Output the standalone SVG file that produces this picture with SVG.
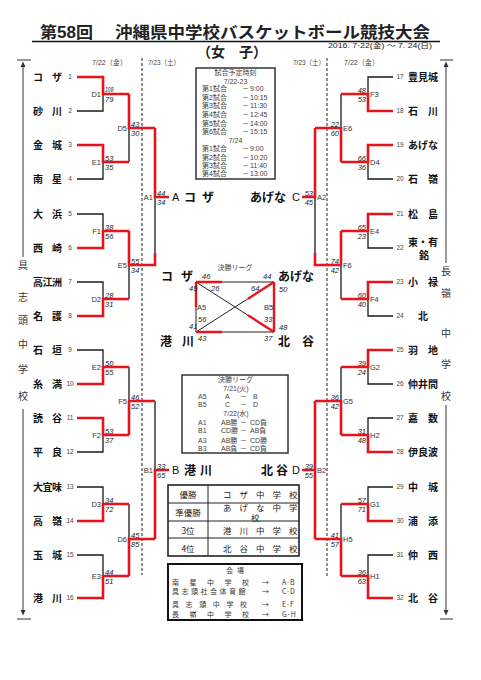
<svg xmlns="http://www.w3.org/2000/svg" width="481" height="680" viewBox="0 0 481 680">
<style>
text{font-family:"Liberation Sans","Noto Sans CJK JP",sans-serif;fill:#222}
.k{stroke:#1a1a1a;stroke-width:1.3;fill:none}
.r{stroke:#e8131b;stroke-width:2.6;fill:none;stroke-linejoin:miter}
.d{stroke:#222;stroke-width:1;stroke-dasharray:3 2;fill:none}
.ax{stroke:#333;stroke-width:1;fill:none}
.nm{font-family:"Noto Sans CJK JP",sans-serif;font-weight:bold;font-size:10px;fill:#111}
.no{font-size:6.5px;fill:#444;text-anchor:middle}
.sc{font-size:7.5px;font-style:italic;fill:#222}
.se{font-size:7.5px;font-style:italic;fill:#222;text-anchor:end}
.le{font-size:7.5px;fill:#333;text-anchor:end}
.ls{font-size:7.5px;fill:#333}
.sm{font-size:7px;fill:#444}
.side{font-family:"Noto Sans CJK JP",sans-serif;font-size:10px;fill:#333;text-anchor:middle}
.big{font-family:"Noto Sans CJK JP",sans-serif;font-weight:bold;font-size:12px;fill:#111}
.let{font-size:11px;fill:#111}
.box{stroke:#333;stroke-width:1.5;fill:none}
.vn{font-family:"Noto Sans CJK JP",sans-serif;font-size:7px;fill:#333}
.rt{font-family:"Noto Sans CJK JP",sans-serif;font-size:8.5px;fill:#222}
</style>
<rect x="0" y="0" width="481" height="680" fill="#fff"/>

<g id="title">
<text x="40" y="38" font-weight="bold" font-size="16" textLength="53" lengthAdjust="spacingAndGlyphs" fill="#111">第58回</text>
<text x="115" y="38" font-weight="bold" font-size="16" textLength="315" lengthAdjust="spacingAndGlyphs" fill="#111">沖縄県中学校バスケットボール競技大会</text>
<line x1="32" y1="41.5" x2="440" y2="41.5" stroke="#111" stroke-width="1.5"/>
<text x="197" y="57" font-weight="bold" font-size="14" textLength="70" lengthAdjust="spacingAndGlyphs" fill="#111">（女　子）</text>
<text x="328" y="47.5" font-size="6.5" textLength="104" lengthAdjust="spacingAndGlyphs" fill="#333">2016. 7·22(金) ～ 7. 24(日)</text>
</g>

<g id="headers">
<text x="92" y="65" class="sm" textLength="35" lengthAdjust="spacingAndGlyphs">7/22（金）</text>
<text x="148" y="65" class="sm" textLength="32" lengthAdjust="spacingAndGlyphs">7/23（土）</text>
<text x="293" y="65" class="sm" textLength="32" lengthAdjust="spacingAndGlyphs">7/23（土）</text>
<text x="344" y="65" class="sm" textLength="35" lengthAdjust="spacingAndGlyphs">7/22（金）</text>
<line class="d" x1="142" y1="58" x2="142" y2="575"/>
<line class="d" x1="327" y1="58" x2="327" y2="576"/>
</g>

<g id="side-left">
<path class="ax" d="M17,60H31M23,66V257M23,409V612M17,619H31"/>
<polygon points="23,61.5 20.5,67 25.5,67" fill="#333"/>
<polygon points="23,615.5 20.5,610 25.5,610" fill="#333"/>
<text class="side" x="23" y="269">具</text>
<text class="side" x="23" y="301">志</text>
<text class="side" x="23" y="324">頭</text>
<text class="side" x="23" y="348">中</text>
<text class="side" x="23" y="373">学</text>
<text class="side" x="23" y="400">校</text>
</g>
<g id="side-right">
<path class="ax" d="M440,60H453M446,66V263M446,405V612M440,619H453"/>
<polygon points="446,61.5 443.5,67 448.5,67" fill="#333"/>
<polygon points="446,615.5 443.5,610 448.5,610" fill="#333"/>
<text class="side" x="446" y="275">長</text>
<text class="side" x="446" y="297">嶺</text>
<text class="side" x="446" y="337">中</text>
<text class="side" x="446" y="368">学</text>
<text class="side" x="446" y="400">校</text>
</g>

<g id="connectors">
<path class="k" d="M77,111H103V94M77,179H103V162M77,214H103V231M77,282H103V299M77,350H103V367M77,452H103V435M77,487H103V504M77,555H103V576M129,162V128M129,299V265M129,367V401M129,504V539M155,265V197M155,401V470M393,77H368V94M393,179H368V162M393,248H368V231M393,316H368V299M393,384H368V367M393,418H368V435M393,487H368V504M393,555H368V576M341,94V128M341,299V265M341,367V401M341,504V539M315,265V197"/>
<path class="r" d="M77,77H103V94H129M77,145H103V162H129M77,248H103V231H129M77,316H103V299H129M77,384H103V367H129M77,418H103V435H129M77,521H103V504H129M77,598H103V576H129M129,94V128H155M129,231V265H155V253M129,435V401H155M129,576V539H155M155,128V197H169M155,539V470H169M393,111H368V94H341M393,145H368V162H341M393,214H368V231H341M393,282H368V299H341M393,350H368V367H341M393,452H368V435H341M393,521H368V504H341M393,598H368V576H341M341,162V128H315M341,231V265H315V253M341,435V401H315M341,576V539H315M315,128V197H302M315,401V539M315,470H302"/>
</g>

<g id="teams-left">
<g id="t1"><text class="nm" x="33 52" y="80.5">コザ</text><text class="no" x="70" y="79.3">1</text></g>
<g id="t2"><text class="nm" x="33 52" y="114.5">砂川</text><text class="no" x="70" y="113.3">2</text></g>
<g id="t3"><text class="nm" x="33 52" y="148.5">金城</text><text class="no" x="70" y="147.3">3</text></g>
<g id="t4"><text class="nm" x="33 52" y="182.5">南星</text><text class="no" x="70" y="181.3">4</text></g>
<g id="t5"><text class="nm" x="33 52" y="217.5">大浜</text><text class="no" x="70" y="216.3">5</text></g>
<g id="t6"><text class="nm" x="33 52" y="251.5">西崎</text><text class="no" x="70" y="250.3">6</text></g>
<g id="t7"><text class="nm" x="33 42.5 52" y="285.5">高江洲</text><text class="no" x="70" y="284.3">7</text></g>
<g id="t8"><text class="nm" x="33 52" y="319.5">名護</text><text class="no" x="70" y="318.3">8</text></g>
<g id="t9"><text class="nm" x="33 52" y="353.5">石垣</text><text class="no" x="70" y="352.3">9</text></g>
<g id="t10"><text class="nm" x="33 52" y="387.5">糸満</text><text class="no" x="70" y="386.3">10</text></g>
<g id="t11"><text class="nm" x="33 52" y="421.5">読谷</text><text class="no" x="70" y="420.3">11</text></g>
<g id="t12"><text class="nm" x="33 52" y="455.5">平良</text><text class="no" x="70" y="454.3">12</text></g>
<g id="t13"><text class="nm" x="33 42.5 52" y="490.5">大宜味</text><text class="no" x="70" y="489.3">13</text></g>
<g id="t14"><text class="nm" x="33 52" y="524.5">高嶺</text><text class="no" x="70" y="523.3">14</text></g>
<g id="t15"><text class="nm" x="33 52" y="558.5">玉城</text><text class="no" x="70" y="557.3">15</text></g>
<g id="t16"><text class="nm" x="33 52" y="601.5">港川</text><text class="no" x="70" y="600.3">16</text></g>
</g>

<g id="teams-right">
<g id="t17"><text class="nm" x="408 418 428" y="80.5">豊見城</text><text class="no" x="400" y="79.3">17</text></g>
<g id="t18"><text class="nm" x="408 428" y="114.5">石川</text><text class="no" x="400" y="113.3">18</text></g>
<g id="t19"><text class="nm" x="408 418 428" y="148.5">あげな</text><text class="no" x="400" y="147.3">19</text></g>
<g id="t20"><text class="nm" x="408 428" y="182.5">石嶺</text><text class="no" x="400" y="181.3">20</text></g>
<g id="t21"><text class="nm" x="408 428" y="217.5">松島</text><text class="no" x="400" y="216.3">21</text></g>
<g id="t22"><text class="nm" x="408 418 428" y="245.5">東・有</text><text class="nm" x="419" y="259">銘</text><text class="no" x="400" y="250.3">22</text></g>
<g id="t23"><text class="nm" x="408 428" y="285.5">小禄</text><text class="no" x="400" y="284.3">23</text></g>
<g id="t24"><text class="nm" x="418" y="319.5">北</text><text class="no" x="400" y="318.3">24</text></g>
<g id="t25"><text class="nm" x="408 428" y="353.5">羽地</text><text class="no" x="400" y="352.3">25</text></g>
<g id="t26"><text class="nm" x="408 418 428" y="387.5">仲井間</text><text class="no" x="400" y="386.3">26</text></g>
<g id="t27"><text class="nm" x="408 428" y="421.5">嘉数</text><text class="no" x="400" y="420.3">27</text></g>
<g id="t28"><text class="nm" x="408 418 428" y="455.5">伊良波</text><text class="no" x="400" y="454.3">28</text></g>
<g id="t29"><text class="nm" x="408 428" y="490.5">中城</text><text class="no" x="400" y="489.3">29</text></g>
<g id="t30"><text class="nm" x="408 428" y="524.5">浦添</text><text class="no" x="400" y="523.3">30</text></g>
<g id="t31"><text class="nm" x="408 428" y="558.5">仲西</text><text class="no" x="400" y="557.3">31</text></g>
<g id="t32"><text class="nm" x="408 428" y="601.5">北谷</text><text class="no" x="400" y="600.3">32</text></g>
</g>

<g id="matches-left">
<g id="D1"><text class="le" x="101" y="96.7">D1</text><text class="sc" x="105" y="92.3" font-size="6" textLength="8.5" lengthAdjust="spacingAndGlyphs">108</text><text class="sc" x="105" y="101.5">79</text></g>
<g id="E1"><text class="le" x="101" y="164.7">E1</text><text class="sc" x="105" y="160.5">53</text><text class="sc" x="105" y="169.5">35</text></g>
<g id="F1"><text class="le" x="101" y="233.7">F1</text><text class="sc" x="105" y="229.5">38</text><text class="sc" x="105" y="238.5">56</text></g>
<g id="D2"><text class="le" x="101" y="301.7">D2</text><text class="sc" x="105" y="297.5">28</text><text class="sc" x="105" y="306.5">31</text></g>
<g id="E2"><text class="le" x="101" y="369.7">E2</text><text class="sc" x="105" y="365.5">50</text><text class="sc" x="105" y="374.5">55</text></g>
<g id="F2"><text class="le" x="101" y="437.7">F2</text><text class="sc" x="105" y="433.5">53</text><text class="sc" x="105" y="442.5">37</text></g>
<g id="D3"><text class="le" x="101" y="506.7">D3</text><text class="sc" x="105" y="502.5">34</text><text class="sc" x="105" y="511.5">72</text></g>
<g id="E3"><text class="le" x="101" y="578.7">E3</text><text class="sc" x="105" y="574.5">44</text><text class="sc" x="105" y="583.5">51</text></g>
<g id="D5"><text class="le" x="127" y="130.7">D5</text><text class="sc" x="131" y="126.5">43</text><text class="sc" x="131" y="135.5">30</text></g>
<g id="E5"><text class="le" x="127" y="267.7">E5</text><text class="sc" x="131" y="263.5">55</text><text class="sc" x="131" y="272.5">34</text></g>
<g id="F5"><text class="le" x="127" y="403.7">F5</text><text class="sc" x="131" y="399.5">46</text><text class="sc" x="131" y="408.5">52</text></g>
<g id="D6"><text class="le" x="127" y="541.7">D6</text><text class="sc" x="131" y="537.5">45</text><text class="sc" x="131" y="546.5">85</text></g>
<g id="A1"><text class="le" x="153" y="199.7">A1</text><text class="sc" x="157" y="195.5">44</text><text class="sc" x="157" y="204.5">34</text></g>
<g id="B1"><text class="le" x="153" y="472.7">B1</text><text class="sc" x="157" y="468.5">33</text><text class="sc" x="157" y="477.5">65</text></g>
</g>

<g id="matches-right">
<g id="F3"><text class="ls" x="370" y="96.7">F3</text><text class="se" x="366" y="92.5">48</text><text class="se" x="366" y="101.5">53</text></g>
<g id="D4"><text class="ls" x="370" y="164.7">D4</text><text class="se" x="366" y="160.5">66</text><text class="se" x="366" y="169.5">36</text></g>
<g id="E4"><text class="ls" x="370" y="233.7">E4</text><text class="se" x="366" y="229.5">65</text><text class="se" x="366" y="238.5">23</text></g>
<g id="F4"><text class="ls" x="370" y="301.7">F4</text><text class="se" x="366" y="297.5">60</text><text class="se" x="366" y="306.5">40</text></g>
<g id="G2"><text class="ls" x="370" y="369.7">G2</text><text class="se" x="366" y="365.5">39</text><text class="se" x="366" y="374.5">24</text></g>
<g id="H2"><text class="ls" x="370" y="437.7">H2</text><text class="se" x="366" y="433.5">31</text><text class="se" x="366" y="442.5">48</text></g>
<g id="G1"><text class="ls" x="370" y="506.7">G1</text><text class="se" x="366" y="502.5">57</text><text class="se" x="366" y="511.5">71</text></g>
<g id="H1"><text class="ls" x="370" y="578.7">H1</text><text class="se" x="366" y="574.5">36</text><text class="se" x="366" y="583.5">63</text></g>
<g id="E6"><text class="ls" x="343" y="130.7">E6</text><text class="se" x="339" y="126.5">22</text><text class="se" x="339" y="135.5">60</text></g>
<g id="F6"><text class="ls" x="343" y="267.7">F6</text><text class="se" x="339" y="263.5">74</text><text class="se" x="339" y="272.5">42</text></g>
<g id="G5"><text class="ls" x="343" y="403.7">G5</text><text class="se" x="339" y="399.5">36</text><text class="se" x="339" y="408.5">42</text></g>
<g id="H5"><text class="ls" x="343" y="541.7">H5</text><text class="se" x="339" y="537.5">41</text><text class="se" x="339" y="546.5">57</text></g>
<g id="A2"><text class="ls" x="317" y="199.7">A2</text><text class="se" x="313" y="195.5">53</text><text class="se" x="313" y="204.5">45</text></g>
<g id="B2"><text class="ls" x="317" y="472.7">B2</text><text class="se" x="313" y="468.5">39</text><text class="se" x="313" y="477.5">55</text></g>
</g>

<g id="finalists">
<g id="block-A"><text class="let" x="172" y="201">A</text><text class="big" x="184 202" y="202">コザ</text></g>
<g id="block-C"><text class="big" x="250" y="202">あげな</text><text class="let" x="292" y="201">C</text></g>
<g id="block-B"><text class="let" x="172" y="474">B</text><text class="big" x="184 200" y="475">港川</text></g>
<g id="block-D"><text class="big" x="261 276" y="475">北谷</text><text class="let" x="292" y="474">D</text></g>
</g>

<g id="schedule">
<rect class="box" x="196" y="68" width="79" height="111"/>
<text class="sm" x="235.5" y="75" text-anchor="middle">試合予定時刻</text>
<text class="sm" x="235.5" y="83.5" text-anchor="middle">7/22-23</text>
<text class="sm" x="202" y="91">第1試合</text><text class="sm" x="242" y="91">－</text><text class="sm" x="250" y="91">9:00</text>
<text class="sm" x="202" y="100">第2試合</text><text class="sm" x="242" y="100">－</text><text class="sm" x="250" y="100">10:15</text>
<text class="sm" x="202" y="108">第3試合</text><text class="sm" x="242" y="108">－</text><text class="sm" x="250" y="108">11:30</text>
<text class="sm" x="202" y="117">第4試合</text><text class="sm" x="242" y="117">－</text><text class="sm" x="250" y="117">12:45</text>
<text class="sm" x="202" y="125.5">第5試合</text><text class="sm" x="242" y="125.5">－</text><text class="sm" x="250" y="125.5">14:00</text>
<text class="sm" x="202" y="134">第6試合</text><text class="sm" x="242" y="134">－</text><text class="sm" x="250" y="134">15:15</text>
<text class="sm" x="235.5" y="142.5" text-anchor="middle">7/24</text>
<text class="sm" x="202" y="151">第1試合</text><text class="sm" x="242" y="151">－</text><text class="sm" x="250" y="151">9:00</text>
<text class="sm" x="202" y="159.5">第2試合</text><text class="sm" x="242" y="159.5">－</text><text class="sm" x="250" y="159.5">10:20</text>
<text class="sm" x="202" y="168">第3試合</text><text class="sm" x="242" y="168">－</text><text class="sm" x="250" y="168">11:40</text>
<text class="sm" x="202" y="176">第4試合</text><text class="sm" x="242" y="176">－</text><text class="sm" x="250" y="176">13:00</text>
</g>

<g id="final-league">
<text class="sm" x="235" y="270" text-anchor="middle">決勝リーグ</text>
<path stroke="#222" stroke-width="1" fill="none" d="M196,282H274V332H196ZM196,282L274,332M196,332L274,282"/>
<path stroke="#e8131b" stroke-width="2.4" fill="none" d="M196,282H222M196,282V307M196,332H222M274,282V332M248,315.3L274,332M248,298.7L274,282"/>
<text class="big" x="161 181" y="281">コザ</text>
<text class="big" x="278" y="281">あげな</text>
<text class="big" x="160 182" y="346">港川</text>
<text class="big" x="278 302" y="346">北谷</text>
<text class="sc" x="202" y="279">46</text>
<text class="sc" x="189" y="291">49</text>
<text class="sc" x="211" y="291">26</text>
<text class="sc" x="263" y="279">44</text>
<text class="sc" x="279" y="292">50</text>
<text class="sc" x="251" y="291">64</text>
<text class="ls" x="197" y="310">A5</text>
<text class="ls" x="264" y="310">B5</text>
<text class="sc" x="198" y="322">56</text>
<text class="sc" x="264" y="322">33</text>
<text class="sc" x="189" y="329">41</text>
<text class="sc" x="279" y="330">48</text>
<text class="sc" x="198" y="341">43</text>
<text class="sc" x="264" y="341">37</text>
</g>

<g id="league-schedule">
<rect class="box" x="182" y="375" width="106" height="78"/>
<text class="sm" x="235.5" y="382" text-anchor="middle">決勝リーグ</text>
<text class="sm" x="236" y="391" text-anchor="middle">7/21(火)</text>
<text class="sm" x="198" y="398.5">A5</text><text class="sm" x="225" y="398.5">A</text><text class="sm" x="240" y="398.5">－</text><text class="sm" x="253" y="398.5">B</text>
<text class="sm" x="198" y="407">B5</text><text class="sm" x="225" y="407">C</text><text class="sm" x="240" y="407">－</text><text class="sm" x="253" y="407">D</text>
<text class="sm" x="236" y="415.5" text-anchor="middle">7/22(水)</text>
<text class="sm" x="198" y="425">A1</text><text class="sm" x="221" y="425">AB勝</text><text class="sm" x="240" y="425">－</text><text class="sm" x="250" y="425">CD負</text>
<text class="sm" x="198" y="433">B1</text><text class="sm" x="221" y="433">CD勝</text><text class="sm" x="240" y="433">－</text><text class="sm" x="250" y="433">AB負</text>
<text class="sm" x="198" y="443">A3</text><text class="sm" x="221" y="443">AB勝</text><text class="sm" x="240" y="443">－</text><text class="sm" x="250" y="443">CD勝</text>
<text class="sm" x="198" y="451">B3</text><text class="sm" x="221" y="451">AB負</text><text class="sm" x="240" y="451">－</text><text class="sm" x="250" y="451">CD負</text>
</g>

<g id="results">
<rect x="168" y="485" width="131" height="71" stroke="#222" stroke-width="1.6" fill="#fff"/>
<path stroke="#222" stroke-width="1" fill="none" d="M208,485V556M168,503H299M168,521H299M168,538H299"/>
<text class="rt" x="188" y="498" text-anchor="middle">優勝</text>
<text class="rt" x="188" y="516" text-anchor="middle">準優勝</text>
<text class="rt" x="188" y="534" text-anchor="middle">3位</text>
<text class="rt" x="188" y="552" text-anchor="middle">4位</text>
<text class="rt" x="223 239.5 256 272.5 289" y="498">コザ中学校</text>
<text class="rt" x="223 239.5 256 272.5 289" y="511">あげな中学</text>
<text class="rt" x="251" y="520.5" font-size="4.5">校</text>
<text class="rt" x="223 239.5 256 272.5 289" y="534">港川中学校</text>
<text class="rt" x="223 239.5 256 272.5 289" y="552">北谷中学校</text>
</g>

<g id="venues">
<rect x="168" y="564" width="134" height="56" stroke="#111" stroke-width="2" fill="#fff"/>
<text class="vn" x="226 237" y="573">会場</text>
<text class="vn" x="172 189.5 207 224.5 242" y="585">南星中学校</text>
<text class="vn" x="262" y="585">→</text><text class="vn" x="282" y="585">A·B</text>
<text class="vn" x="172 181.5 191 200.5 210 219.5 229 238.5" y="594">具志頭社会体育館</text>
<text class="vn" x="262" y="594">→</text><text class="vn" x="282" y="594">C·D</text>
<text class="vn" x="172 185.6 199.2 212.8 226.4 240" y="607">具志頭中学校</text>
<text class="vn" x="262" y="607">→</text><text class="vn" x="282" y="607">E·F</text>
<text class="vn" x="172 189.5 207 224.5 242" y="617">長嶺中学校</text>
<text class="vn" x="262" y="617">→</text><text class="vn" x="282" y="617">G·H</text>
</g>
</svg>
